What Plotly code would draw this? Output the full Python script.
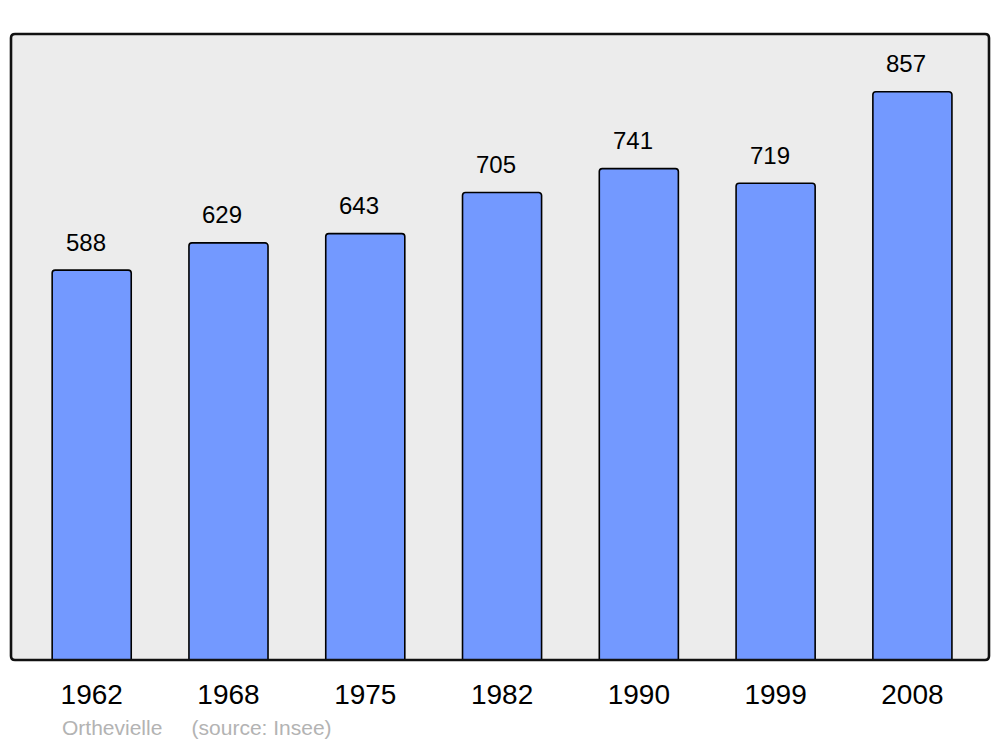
import plotly.graph_objects as go

years = ["1962", "1968", "1975", "1982", "1990", "1999", "2008"]
population = [588, 629, 643, 705, 741, 719, 857]
commune = "Orthevielle"
source = "(source: Insee)"

FONT = "Liberation Sans, Arial, sans-serif"

fig = go.Figure()
fig.add_trace(go.Bar(
    x=years, y=population,
    width=0.578,
    marker=dict(color="#7399FF", line=dict(color="#000000", width=1.6), cornerradius=3),
    hoverinfo="x+y",
))

for i, v in enumerate(population):
    fig.add_annotation(x=i, y=v, text=str(v), showarrow=False,
                       xanchor="center", yanchor="middle", yshift=28, xshift=-6,
                       font=dict(family=FONT, size=24, color="#000000"))

fig.add_annotation(xref="paper", yref="paper", x=0.051, y=-0.1086,
                   xanchor="left", yanchor="middle", showarrow=False, borderpad=0,
                   text=commune + "\u00a0\u00a0\u00a0\u00a0\u00a0" + source,
                   font=dict(family=FONT, size=21, color="#B3B3B3"))

# rounded frame around the plot area (paper coordinates)
rx, ry = 4 / 978, 4 / 626
frame = (f"M {rx},0 L {1-rx},0 Q 1,0 1,{ry} L 1,{1-ry} Q 1,1 {1-rx},1 "
         f"L {rx},1 Q 0,1 0,{1-ry} L 0,{ry} Q 0,0 {rx},0 Z")
fig.add_shape(type="path", xref="paper", yref="paper", path=frame,
              line=dict(color="#111111", width=2.6), layer="above")

fig.update_layout(
    width=984, height=731,
    margin=dict(l=3, r=3, t=26, b=79),
    paper_bgcolor="#FFFFFF", plot_bgcolor="#ECECEC",
    showlegend=False,
    font=dict(family=FONT, color="#000000"),
)
fig.update_xaxes(type="category", range=[-0.59, 6.56], showgrid=False, zeroline=False,
                 showline=False, ticks="", tickfont=dict(family=FONT, size=28, color="#000000"),
                 ticklabelstandoff=15)
fig.update_yaxes(range=[0, 944], showgrid=False, zeroline=False, showline=False,
                 showticklabels=False, ticks="")

fig.write_html("out.html")
